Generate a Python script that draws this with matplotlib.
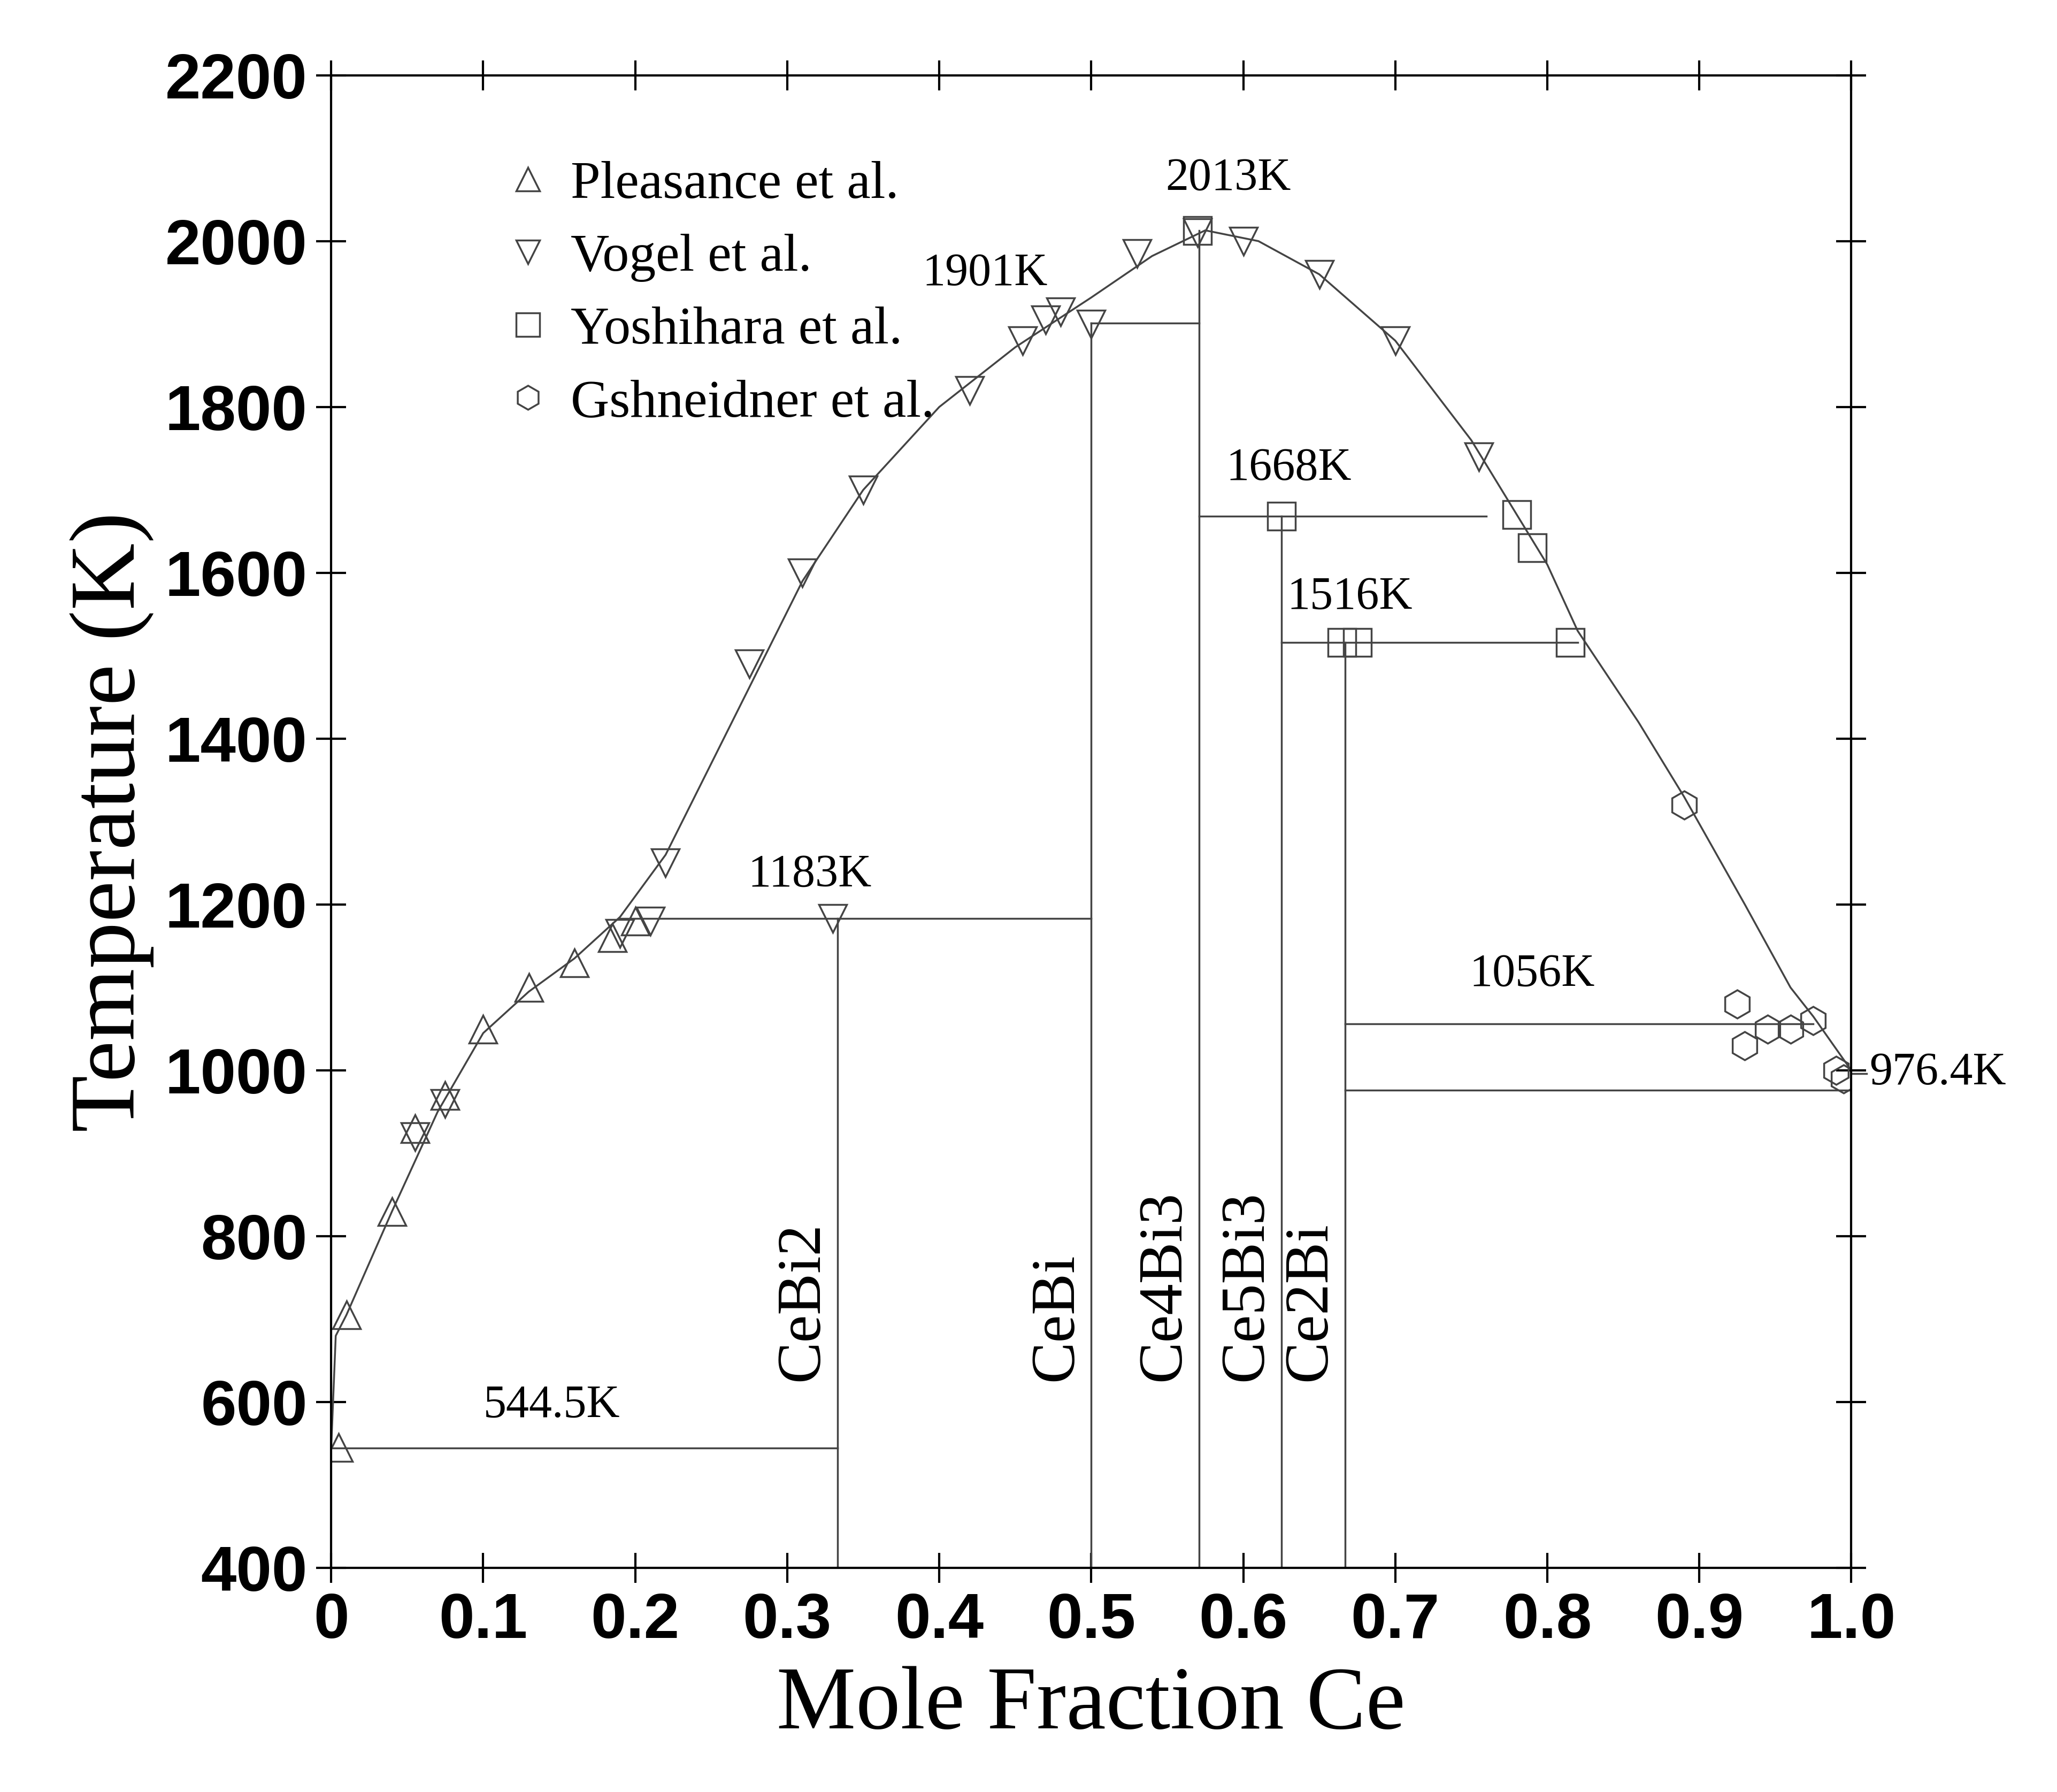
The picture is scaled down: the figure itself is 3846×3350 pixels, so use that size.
import matplotlib
matplotlib.use("Agg")
import matplotlib.pyplot as plt

# liquidus curve
curve_x = [0.0, 0.003, 0.01, 0.04, 0.07, 0.10, 0.13, 0.16, 0.19, 0.22, 0.25, 0.28, 0.31, 0.35, 0.40,
           0.45, 0.50, 0.54, 0.575, 0.61, 0.65, 0.70, 0.75, 0.80, 0.82, 0.86, 0.89, 0.93, 0.96, 0.975, 1.0]
curve_y = [544.5, 680, 705, 830, 950, 1045, 1095, 1135, 1185, 1260, 1370, 1480, 1590, 1700, 1800,
           1872, 1932, 1982, 2013, 2000, 1960, 1880, 1760, 1610, 1530, 1420, 1330, 1200, 1100, 1065, 1000]

pleasance_x = [0.005, 0.01, 0.04, 0.055, 0.075, 0.10, 0.13, 0.16, 0.185, 0.20]
pleasance_y = [545, 705, 830, 930, 970, 1050, 1100, 1130, 1160, 1180]
vogel_x = [0.055, 0.075, 0.19, 0.21, 0.22, 0.275, 0.31, 0.35, 0.42, 0.455, 0.47, 0.48, 0.50,
           0.33, 0.53, 0.57, 0.60, 0.65, 0.70, 0.755]
vogel_y = [920, 960, 1165, 1180, 1250, 1490, 1600, 1700, 1820, 1880, 1905, 1915, 1900,
           1183, 1985, 2010, 2000, 1960, 1880, 1740]
yoshihara_x = [0.57, 0.625, 0.665, 0.675, 0.78, 0.79, 0.815]
yoshihara_y = [2013, 1668, 1516, 1516, 1670, 1630, 1516]
gsch_x = [0.89, 0.925, 0.93, 0.945, 0.96, 0.975, 0.99, 0.995]
gsch_y = [1320, 1080, 1030, 1050, 1050, 1060, 1000, 990]

# invariant lines: (y, x0, x1, label, label_x, label_y)
horiz = [(544.5, 0.0, 0.333, "544.5K", 0.145, 570),
         (1183, 0.19, 0.5, "1183K", 0.315, 1210),
         (1901, 0.5, 0.571, "1901K", 0.43, 1935),
         (1668, 0.571, 0.76, "1668K", 0.63, 1700),
         (1516, 0.625, 0.82, "1516K", 0.67, 1545),
         (1056, 0.667, 0.975, "1056K", 0.79, 1090),
         (976.4, 0.667, 1.0, "", 0, 0)]
compounds = ["CeBi2", "CeBi", "Ce4Bi3", "Ce5Bi3", "Ce2Bi"]
comp_x = [0.333, 0.5, 0.571, 0.625, 0.667]
comp_top = [1183, 1901, 2013, 1668, 1516]

serif = "Liberation Serif"
fig = plt.figure(figsize=(38.46, 33.5), dpi=100)
ax = fig.add_axes([0.161, 0.125, 0.739, 0.833])
lw = 2.5
ax.plot(curve_x, curve_y, color="#444", lw=lw)
for y, x0, x1, lab, lx, ly in horiz:
    ax.plot([x0, x1], [y, y], color="#444", lw=lw)
    if lab:
        ax.text(lx, ly, lab, family=serif, fontsize=62, ha="center", va="bottom")
ax.text(0.59, 2050, "2013K", family=serif, fontsize=62, ha="center", va="bottom")
ax.text(1.012, 976.4 + 20, "976.4K", family=serif, fontsize=62, ha="left", va="center")
ax.plot([1.0, 1.01], [976.4 + 20, 976.4 + 20], color="#444", lw=lw, clip_on=False)
for name, x, top in zip(compounds, comp_x, comp_top):
    ax.plot([x, x], [400, top], color="#444", lw=lw)
    ax.text(x - 0.004, 625, name, family=serif, fontsize=84, rotation=90,
            ha="right", va="bottom")

ms = 38
kw = dict(ls="none", mfc="none", mec="#444", mew=2.5, ms=ms)
ax.plot(pleasance_x, pleasance_y, marker="^", label="Pleasance et al.", **kw)
ax.plot(vogel_x, vogel_y, marker="v", label="Vogel et al.", **kw)
ax.plot(yoshihara_x, yoshihara_y, marker="s", label="Yoshihara et al.", **kw)
ax.plot(gsch_x, gsch_y, marker="h", label="Gshneidner et al.", **kw)
ax.legend(loc="upper left", bbox_to_anchor=(0.08, 0.975), frameon=False,
          prop={"family": serif, "size": 72}, markerscale=0.85,
          handletextpad=0.3, labelspacing=0.45, handlelength=1.0)

ax.set_xlim(0, 1.0)
ax.set_ylim(400, 2200)
ax.set_xticks([0, 0.1, 0.2, 0.3, 0.4, 0.5, 0.6, 0.7, 0.8, 0.9, 1.0])
ax.set_xticklabels(["0", "0.1", "0.2", "0.3", "0.4", "0.5", "0.6", "0.7", "0.8", "0.9", "1.0"])
ax.set_yticks(range(400, 2201, 200))
ax.tick_params(direction="inout", length=40, width=3, top=True, right=True, pad=12)
for lab in ax.get_xticklabels() + ax.get_yticklabels():
    lab.set_family("Liberation Sans")
    lab.set_fontweight("bold")
    lab.set_fontsize(86)
for s in ax.spines.values():
    s.set_linewidth(3)
ax.set_xlabel("Mole Fraction Ce", family=serif, fontsize=120, labelpad=20)
ax.set_ylabel("Temperature (K)", family=serif, fontsize=125, labelpad=15)

fig.savefig("out.png", dpi=100)
